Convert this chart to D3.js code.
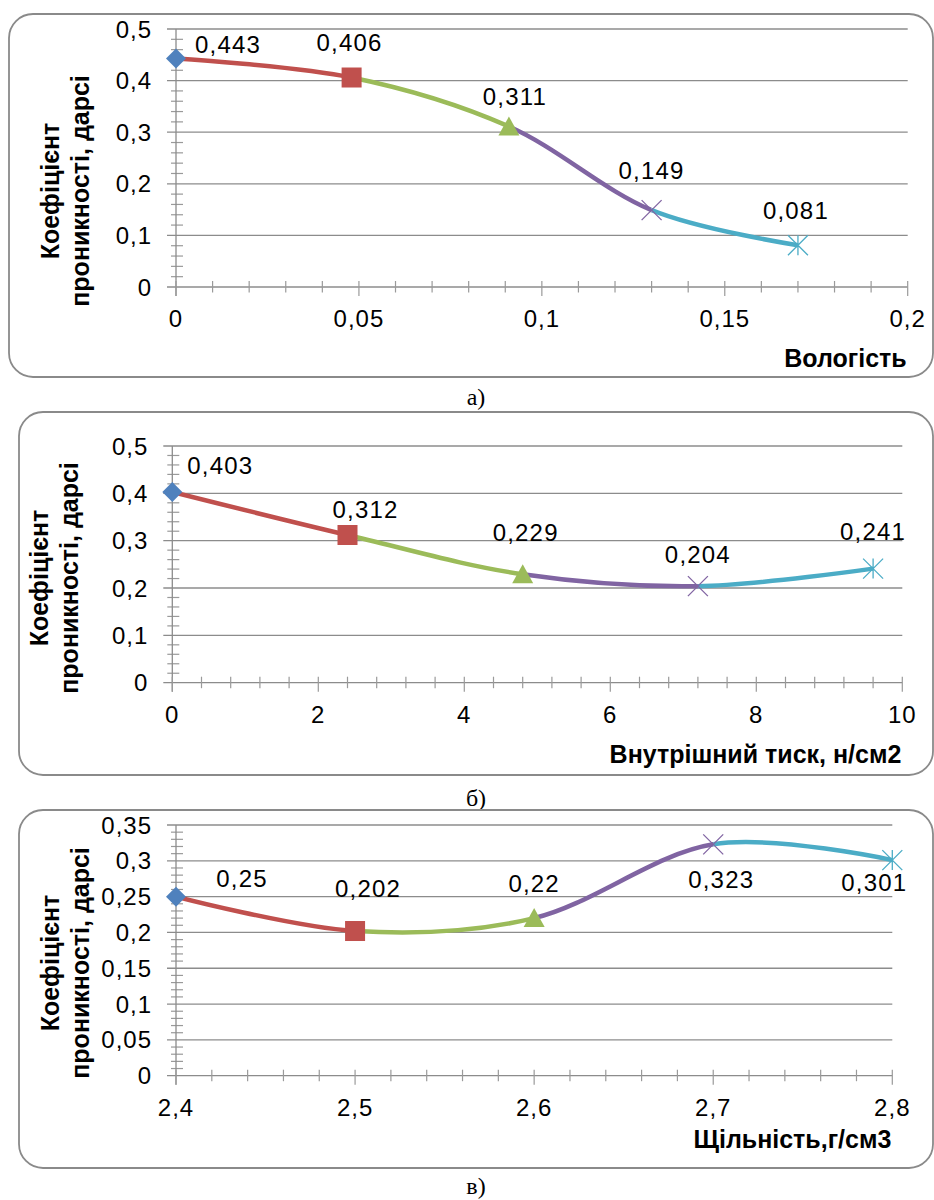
<!DOCTYPE html>
<html>
<head>
	<meta charset="utf-8">
	<script src="https://cdn.jsdelivr.net/npm/d3@7"></script>
	<style>
	body{
		margin: 0;
		background: #fff;
	}
	svg text{
		font-family: "Liberation Sans", Arial, sans-serif;
		fill: #000;
	}
	</style>
</head>
<body>
<svg id="chart" width="934" height="1200"></svg>
<script>
// a) moisture
var xA = [0, 0.048, 0.091, 0.13, 0.17];
var yA = [0.443, 0.406, 0.311, 0.149, 0.081];
var xTicksA = [0, 0.05, 0.1, 0.15, 0.2];
var yTicksA = [0, 0.1, 0.2, 0.3, 0.4, 0.5];

// b) internal pressure
var xB = [0, 2.4, 4.8, 7.2, 9.6];
var yB = [0.403, 0.312, 0.229, 0.204, 0.241];
var xTicksB = [0, 2, 4, 6, 8, 10];
var yTicksB = [0, 0.1, 0.2, 0.3, 0.4, 0.5];

// c) density
var xC = [2.4, 2.5, 2.6, 2.7, 2.8];
var yC = [0.25, 0.202, 0.22, 0.323, 0.301];
var xTicksC = [2.4, 2.5, 2.6, 2.7, 2.8];
var yTicksC = [0, 0.05, 0.1, 0.15, 0.2, 0.25, 0.3, 0.35];

var yTitle = ["Коефіцієнт", "проникності, дарсі"];
var xTitles = ["Вологість", "Внутрішний тиск, н/см2", "Щільність,г/см3"];
var captions = ["а)", "б)", "в)"];

// point colours / markers (Excel default palette)
var colors = ["#4F81BD", "#C0504D", "#9BBB59", "#8064A2", "#4BACC6"];
var markers = ["diamond", "square", "triangle", "x", "star"];

var svg = d3.select("#chart");

function fmt(v){
	return String(+v.toFixed(4)).replace(".", ",");
}

// minor ticks: 5 parts per major interval
function minorTicks(major){
	var out = [];
	for (var i = 0; i < major.length - 1; i++) {
		var step = (major[i+1] - major[i]) / 5;
		for (var k = 1; k < 5; k++) out.push(major[i] + step * k);
	}
	return out;
}

var panels = [
	{xs: xA, ys: yA, xt: xTicksA, yt: yTicksA, box: [9, 14, 924, 363], plot: [176, 907.7, 29, 287],
	 labelOff: [[52,-14],[-2,-35],[6,-30],[0,-40],[-2,-35]], titleX: [59, 89], titleY: 191, xTitleY: 367, capY: 405},
	{xs: xB, ys: yB, xt: xTicksB, yt: yTicksB, box: [19, 412, 914, 363], plot: [172.3, 902.3, 446, 682.7],
	 labelOff: [[48,-26],[18,-25],[3,-42],[0,-32],[0,-37]], titleX: [48, 78], titleY: 578, xTitleY: 763, capY: 806},
	{xs: xC, ys: yC, xt: xTicksC, yt: yTicksC, box: [19, 810, 914, 358], plot: [176, 892.3, 825, 1075.7],
	 labelOff: [[66,-18],[13,-43],[0,-35],[8,35],[-18,22]], titleX: [59, 89], titleY: 963, xTitleY: 1148, capY: 1194}
];

panels.forEach(function(p, pi){ drawPanel(p, pi); });

function drawPanel(p, pi){
	var g = svg.append("g");
	var x0 = p.plot[0], x1 = p.plot[1], yTop = p.plot[2], yBot = p.plot[3];

	var x = d3.scaleLinear().domain([p.xt[0], p.xt[p.xt.length-1]]).range([x0, x1]);
	var y = d3.scaleLinear().domain([p.yt[0], p.yt[p.yt.length-1]]).range([yBot, yTop]);

	// rounded frame
	g.append("rect")
		.attr("x", p.box[0]).attr("y", p.box[1])
		.attr("width", p.box[2]).attr("height", p.box[3])
		.attr("rx", 24).attr("ry", 24)
		.attr("fill", "#fff")
		.attr("stroke", "#8a8a8a")
		.attr("stroke-width", 1.8);

	// gridlines (+ major y ticks)
	g.selectAll(".grid").data(p.yt).enter().append("line")
		.attr("x1", x0 - 9).attr("x2", x1)
		.attr("y1", function(d){ return y(d); })
		.attr("y2", function(d){ return y(d); })
		.attr("stroke", "#8c8c8c").attr("stroke-width", 1.3);

	// minor y ticks
	g.selectAll(".ymin").data(minorTicks(p.yt)).enter().append("line")
		.attr("x1", x0 - 5).attr("x2", x0 + 7)
		.attr("y1", function(d){ return y(d); })
		.attr("y2", function(d){ return y(d); })
		.attr("stroke", "#9a9a9a").attr("stroke-width", 1.2);

	// y axis
	g.append("line")
		.attr("x1", x0).attr("x2", x0)
		.attr("y1", yTop).attr("y2", yBot + 9)
		.attr("stroke", "#8c8c8c").attr("stroke-width", 1.3);

	// x axis ticks
	g.selectAll(".xmaj").data(p.xt).enter().append("line")
		.attr("x1", function(d){ return x(d); })
		.attr("x2", function(d){ return x(d); })
		.attr("y1", yBot - 6).attr("y2", yBot + 9)
		.attr("stroke", "#9a9a9a").attr("stroke-width", 1.2);
	g.selectAll(".xmin").data(minorTicks(p.xt)).enter().append("line")
		.attr("x1", function(d){ return x(d); })
		.attr("x2", function(d){ return x(d); })
		.attr("y1", yBot - 6).attr("y2", yBot + 5.5)
		.attr("stroke", "#9a9a9a").attr("stroke-width", 1.2);

	// tick labels
	g.selectAll(".ylab").data(p.yt).enter().append("text")
		.attr("x", x0 - 24)
		.attr("y", function(d){ return y(d) + 8.5; })
		.attr("text-anchor", "end")
		.attr("font-size", "24px")
		.attr("letter-spacing", "1px")
		.text(fmt);
	g.selectAll(".xlab").data(p.xt).enter().append("text")
		.attr("x", function(d){ return x(d); })
		.attr("y", yBot + 40)
		.attr("text-anchor", "middle")
		.attr("font-size", "24px")
		.attr("letter-spacing", "1px")
		.text(fmt);

	// axis titles
	var yt = g.append("text")
		.attr("transform", "rotate(-90)")
		.attr("text-anchor", "middle")
		.attr("font-size", "25px")
		.attr("font-weight", "bold");
	yTitle.forEach(function(t, i){
		yt.append("tspan")
			.attr("x", -p.titleY)
			.attr("y", p.titleX[i])
			.text(t);
	});
	g.append("text")
		.attr("x", x1 - 1)
		.attr("y", p.xTitleY)
		.attr("text-anchor", "end")
		.attr("font-size", "25px")
		.attr("font-weight", "bold")
		.text(xTitles[pi]);

	// smoothed curve, each segment coloured like the point it ends at
	var pts = p.xs.map(function(d, i){ return [x(d), y(p.ys[i])]; });
	var line = d3.line().curve(d3.curveCardinal.tension(0));
	var pathD = line(pts);
	for (var i = 0; i < pts.length - 1; i++) {
		var id = "clip" + pi + "_" + i;
		svg.append("clipPath").attr("id", id)
			.append("rect")
			.attr("x", pts[i][0]).attr("y", yTop - 40)
			.attr("width", pts[i+1][0] - pts[i][0])
			.attr("height", yBot - yTop + 80);
		g.append("path")
			.attr("d", pathD)
			.attr("clip-path", "url(#" + id + ")")
			.attr("fill", "none")
			.attr("stroke", colors[i+1])
			.attr("stroke-width", 4.5);
	}

	// markers
	pts.forEach(function(pt, i){
		drawMarker(g, markers[i], pt[0], pt[1], colors[i]);
	});

	// data labels
	pts.forEach(function(pt, i){
		g.append("text")
			.attr("x", pt[0] + p.labelOff[i][0])
			.attr("y", pt[1] + p.labelOff[i][1] + 8.5)
			.attr("text-anchor", "middle")
			.attr("font-size", "24px")
			.attr("letter-spacing", "1.2px")
			.text(fmt(p.ys[i]));
	});

	// caption under the frame
	g.append("text")
		.attr("x", 476)
		.attr("y", p.capY)
		.attr("text-anchor", "middle")
		.attr("font-size", "24px")
		.style("font-family", "'Liberation Serif', 'Times New Roman', serif")
		.text(captions[pi]);
}

function drawMarker(g, type, cx, cy, color){
	if (type == "diamond") {
		g.append("path")
			.attr("d", "M" + cx + "," + (cy-10) + "L" + (cx+10) + "," + cy + "L" + cx + "," + (cy+10) + "L" + (cx-10) + "," + cy + "Z")
			.attr("fill", color);
	} else if (type == "square") {
		g.append("rect")
			.attr("x", cx - 10).attr("y", cy - 10)
			.attr("width", 20).attr("height", 20)
			.attr("fill", color);
	} else if (type == "triangle") {
		g.append("path")
			.attr("d", "M" + cx + "," + (cy-10) + "L" + (cx+10.5) + "," + (cy+9) + "L" + (cx-10.5) + "," + (cy+9) + "Z")
			.attr("fill", color);
	} else {
		var s = 10;
		var d = "M" + (cx-s) + "," + (cy-s) + "L" + (cx+s) + "," + (cy+s) +
			"M" + (cx-s) + "," + (cy+s) + "L" + (cx+s) + "," + (cy-s);
		if (type == "star") d += "M" + cx + "," + (cy-s) + "L" + cx + "," + (cy+s);
		g.append("path")
			.attr("d", d)
			.attr("fill", "none")
			.attr("stroke", color)
			.attr("stroke-width", 1.3);
	}
}
</script>
</body>
</html>
